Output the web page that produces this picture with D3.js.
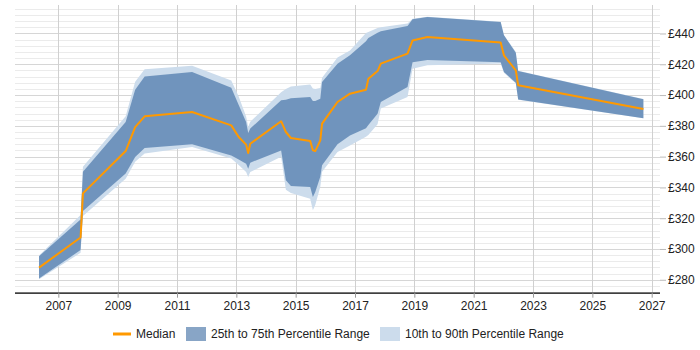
<!DOCTYPE html>
<html>
<head>
<meta charset="utf-8">
<script src="https://cdn.jsdelivr.net/npm/d3@7"></script>
<style>
  html, body { margin: 0; padding: 0; background: #fff; }
  svg { display: block; font-family: "Liberation Sans", Arial, sans-serif; }
</style>
</head>
<body>
<svg id="chart" width="700" height="350"></svg>
<script>
// ---- Data ----
const years = [2006.35, 2007.75, 2007.83, 2009.27, 2009.59, 2009.91, 2011.51, 2012.83, 2013.08, 2013.33,
  2013.40, 2013.47, 2014.51, 2014.67, 2014.84, 2015.49, 2015.58, 2015.66, 2015.83, 2015.89,
  2016.41, 2016.83, 2017.37, 2017.45, 2017.76, 2017.87, 2018.77, 2018.94, 2019.44, 2021.91,
  2022.02, 2022.42, 2022.50, 2026.72];
const median = [287.9, 307.5, 336.1, 363.6, 379.2, 386.2, 389.0, 380.3, 372.7, 367.8,
  362.3, 368.4, 383.0, 376.0, 372.1, 370.1, 364.1, 363.6, 370.6, 381.4,
  395.5, 400.9, 403.5, 410.6, 415.6, 420.4, 426.9, 435.5, 437.7, 434.2,
  425.8, 416.0, 406.3, 390.9];
const p25 = [280.8, 299.3, 324.6, 349.0, 359.7, 365.6, 368.0, 360.8, 358.1, 355.4,
  352.2, 356.1, 364.0, 344.6, 340.9, 340.3, 333.8, 337.0, 347.0, 354.4,
  368.0, 373.8, 378.5, 380.5, 387.9, 395.5, 405.2, 421.3, 422.8, 421.3,
  415.0, 408.0, 397.1, 384.9];
const p75 = [295.3, 319.2, 350.1, 382.5, 403.5, 412.1, 414.9, 404.8, 393.6, 382.5,
  375.3, 378.2, 396.6, 397.0, 398.0, 398.7, 396.1, 396.1, 397.6, 408.4,
  420.4, 425.8, 435.0, 437.0, 440.5, 441.4, 444.8, 449.2, 450.7, 447.4,
  438.8, 427.5, 415.6, 397.2];
const p10 = [280.3, 297.5, 321.5, 345.7, 356.6, 362.0, 366.2, 358.8, 354.5, 350.0,
  346.8, 350.0, 359.9, 338.5, 336.4, 332.7, 325.1, 328.5, 340.5, 350.1,
  363.0, 367.3, 372.9, 374.0, 381.0, 391.2, 398.7, 417.1, 419.3, 420.5,
  414.5, 407.5, 397.0, 384.9];
const p90 = [295.8, 322.0, 353.4, 386.2, 408.6, 416.7, 419.0, 409.5, 399.0, 386.0,
  379.4, 382.6, 401.9, 404.0, 405.6, 406.9, 404.3, 404.0, 404.5, 411.3,
  424.4, 429.0, 440.3, 441.0, 443.5, 444.0, 446.5, 449.5, 450.9, 447.6,
  439.0, 428.0, 415.8, 397.4];
const xTicks = [2007, 2009, 2011, 2013, 2015, 2017, 2019, 2021, 2023, 2025, 2027];
const yTicks = [280, 300, 320, 340, 360, 380, 400, 420, 440];
const legendLabels = ["Median", "25th to 75th Percentile Range", "10th to 90th Percentile Range"];

// ---- Layout ----
const svg = d3.select("#chart");
const plotL = 15, plotR = 660, plotT = 5, plotB = 292.7;
const x = d3.scaleLinear().domain([2005.54, 2027.28]).range([plotL, plotR]);
const y = d3.scaleLinear().domain([271.6, 458.5]).range([plotB, plotT]);

const rows = years.map((yr, i) => ({ yr, med: median[i], lo25: p25[i], hi75: p75[i], lo10: p10[i], hi90: p90[i] }));

// minor horizontal grid lines (every 4)
const minor = d3.range(272, 459, 4).filter(v => v % 20 !== 0);
svg.append("g").selectAll("line").data(minor).join("line")
  .attr("x1", plotL).attr("x2", plotR)
  .attr("y1", d => Math.round(y(d)) + 0.5).attr("y2", d => Math.round(y(d)) + 0.5)
  .attr("stroke", "#ebebeb").attr("stroke-width", 1);
// major horizontal grid lines
svg.append("g").selectAll("line").data(d3.range(280, 459, 20)).join("line")
  .attr("x1", plotL).attr("x2", plotR)
  .attr("y1", d => Math.round(y(d)) + 0.5).attr("y2", d => Math.round(y(d)) + 0.5)
  .attr("stroke", "#d6d6d6").attr("stroke-width", 1);
// vertical grid lines
svg.append("g").selectAll("line").data(xTicks).join("line")
  .attr("x1", d => Math.round(x(d)) + 0.5).attr("x2", d => Math.round(x(d)) + 0.5)
  .attr("y1", plotT).attr("y2", plotB)
  .attr("stroke", "#d0d0d0").attr("stroke-width", 1);

// bands
const area90 = d3.area().x(d => x(d.yr)).y0(d => y(d.lo10)).y1(d => y(d.hi90));
const area75 = d3.area().x(d => x(d.yr)).y0(d => y(d.lo25)).y1(d => y(d.hi75));
svg.append("path").datum(rows).attr("d", area90).attr("fill", "rgb(204,220,236)");
svg.append("path").datum(rows).attr("d", area75).attr("fill", "rgba(30,85,148,0.53)");

// median
const line = d3.line().x(d => x(d.yr)).y(d => y(d.med));
svg.append("path").datum(rows).attr("d", line)
  .attr("fill", "none").attr("stroke", "#ff9900").attr("stroke-width", 2)
  .attr("stroke-linejoin", "round");

// x axis
const xAxis = d3.axisBottom(x).tickValues(xTicks).tickFormat(d3.format("d")).tickSize(5).tickPadding(4);
const gx = svg.append("g").attr("transform", `translate(0,${plotB})`).call(xAxis);
gx.select(".domain").attr("d", `M${plotL},0.5H${plotR}`).attr("stroke", "#000").attr("stroke-width", 1.2);
gx.selectAll(".tick line").attr("stroke", "#999");
gx.selectAll("text").attr("font-size", 12).attr("fill", "#222").attr("font-family", "Liberation Sans, Arial, sans-serif");

// y axis (right)
const yAxis = d3.axisRight(y).tickValues(yTicks).tickFormat(d => "£" + d).tickSize(6).tickPadding(2);
const gy = svg.append("g").attr("transform", `translate(${plotR},0)`).call(yAxis);
gy.select(".domain").remove();
gy.selectAll(".tick line").attr("stroke", "#bbb");
gy.selectAll("text").attr("font-size", 12).attr("fill", "#222").attr("font-family", "Liberation Sans, Arial, sans-serif");

// legend
const lg = svg.append("g").attr("font-size", 12).attr("fill", "#222");
const ly = 334;
lg.append("line").attr("x1", 113).attr("x2", 131).attr("y1", ly).attr("y2", ly)
  .attr("stroke", "#ff9900").attr("stroke-width", 3);
lg.append("text").attr("x", 136).attr("y", ly + 4).text(legendLabels[0]);
lg.append("rect").attr("x", 186).attr("y", ly - 7).attr("width", 20).attr("height", 14)
  .attr("fill", "rgb(136,165,198)");
lg.append("text").attr("x", 211).attr("y", ly + 4).text(legendLabels[1]);
lg.append("rect").attr("x", 380).attr("y", ly - 7).attr("width", 20).attr("height", 14)
  .attr("fill", "rgb(204,220,236)");
lg.append("text").attr("x", 405).attr("y", ly + 4).text(legendLabels[2]);
</script>
</body>
</html>
